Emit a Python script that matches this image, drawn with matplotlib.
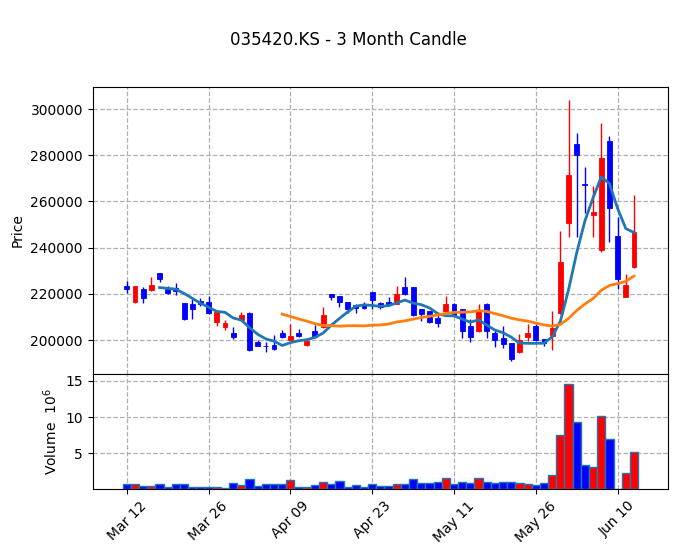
import numpy as np
import pandas as pd
import matplotlib
matplotlib.use("Agg")
import matplotlib.pyplot as plt

# daily OHLC (KRW) and volume (millions)
opens = [223600, 216400, 222300, 221440, 228800, 221870, 222640, 215830, 215700, 217100,
         216550, 207910, 205610, 202880, 208490, 211800, 199140, 197550, 197840, 203170,
         200140, 203020, 197990, 203740, 205610, 219860, 218850, 216400, 215250, 215250,
         220580, 216110, 216400, 215680, 223020, 223020, 213530, 212520, 209640, 212370,
         215700, 213300, 206200, 203890, 215400, 203170, 200720, 198560, 194960, 201300,
         206040, 200290, 201730, 211560, 250870, 284970, 267500, 254340, 239020, 286270,
         245090, 218500, 231790]
highs = [225750, 223500, 222900, 227200, 228800, 223170, 224800, 215830, 217550, 218300,
         218850, 212090, 208630, 205760, 212090, 212090, 199860, 199280, 202160, 204320,
         206760, 204600, 199420, 206330, 214390, 219860, 218850, 216400, 215680, 216550,
         220580, 216550, 218700, 223300, 227340, 223020, 213530, 212520, 211080, 218990,
         216100, 213300, 208900, 215400, 215830, 204320, 206040, 198560, 202450, 206760,
         206760, 200290, 212720, 247400, 303760, 289600, 274860, 266470, 293930, 288150,
         253470, 228470, 262720]
lows = [220430, 216100, 216100, 221150, 225200, 220000, 219480, 208780, 209200, 214800,
        211400, 206190, 204170, 200570, 208200, 195250, 197260, 194680, 195830, 201010,
        200000, 201300, 197260, 201010, 205320, 217270, 214240, 211800, 211800, 213530,
        213530, 213530, 214680, 215400, 219280, 210360, 208200, 207480, 205610, 212090,
        210300, 201000, 199100, 203450, 201010, 196980, 196690, 190940, 194530, 199570,
        199570, 197410, 195660, 211270, 244510, 244800, 254910, 244800, 238300, 242630,
        221970, 218500, 231070]
closes = [222000, 223170, 218270, 223900, 226200, 220290, 221340, 209060, 213500, 215400,
          211800, 212090, 207190, 201300, 210650, 195680, 197550, 197260, 196260, 201440,
          201730, 201730, 199420, 201300, 210940, 218700, 216400, 213380, 213810, 213810,
          217410, 214390, 214960, 219710, 220000, 210790, 211080, 207910, 207340, 215400,
          210600, 204000, 201200, 212520, 203890, 200000, 198130, 191650, 199860, 203170,
          200000, 198560, 205060, 233670, 271530, 280200, 267200, 255350, 278760, 257080,
          226300, 223700, 246970]
volumes = [0.65, 0.65, 0.47, 0.47, 0.65, 0.33, 0.65, 0.65, 0.33, 0.33,
           0.33, 0.28, 0.19, 0.8, 0.5, 1.35, 0.47, 0.65, 0.65, 0.65,
           1.2, 0.33, 0.33, 0.5, 0.93, 0.65, 1.07, 0.33, 0.5, 0.23,
           0.65, 0.37, 0.37, 0.65, 0.65, 1.35, 0.8, 0.8, 0.93, 1.5,
           0.65, 0.93, 0.8, 1.5, 0.93, 0.8, 0.93, 0.93, 0.8, 0.65,
           0.5, 0.8, 1.9, 7.5, 14.52, 9.3, 3.3, 3.0, 10.1, 6.9,
           0.0, 2.2, 5.1]
tick_pos = [0, 10, 20, 30, 40, 50, 60]
tick_labels = ["Mar 12", "Mar 26", "Apr 09", "Apr 23", "May 11", "May 26", "Jun 10"]

df = pd.DataFrame({"open": opens, "high": highs, "low": lows, "close": closes, "volume": volumes})
df["ma5"] = df["close"].rolling(5).mean()
df["ma20"] = df["close"].rolling(20).mean()
x = np.arange(len(df))
up = df["close"] >= df["open"]
colors = np.where(up, "#ff0000", "#0000ff")

fig = plt.figure(figsize=(6.77, 5.55), dpi=100)
ax = fig.add_axes([0.1369, 0.3261, 0.8503, 0.5176])
axv = fig.add_axes([0.1369, 0.1189, 0.8503, 0.2072], sharex=ax)

grid_kw = dict(color="#b0b0b0", linestyle="--", linewidth=0.9)

# candles
ax.vlines(x, df["low"], df["high"], colors=colors, linewidth=1.0, zorder=2)
body = (df["close"] - df["open"]).abs().clip(lower=300)
ax.bar(x, body, bottom=df[["open", "close"]].min(axis=1), width=0.6,
       color=colors, edgecolor=colors, linewidth=0.6, zorder=3)
ax.plot(x, df["ma5"], color="#1f77b4", linewidth=2, zorder=4)
ax.plot(x, df["ma20"], color="#ff7f0e", linewidth=2, zorder=4)
ax.set_ylim(185280, 309650)
ax.set_xlim(-4.17, 66.2)
ax.set_yticks([200000, 220000, 240000, 260000, 280000, 300000])
ax.set_ylabel("Price")
ax.grid(True, **grid_kw)
ax.set_axisbelow(True)
ax.tick_params(axis="x", labelbottom=False)

# volume
axv.bar(x, df["volume"], width=1.0, color=colors, edgecolor="#1f77b4", linewidth=1.0, zorder=3)
axv.set_ylim(0, 15.97)
axv.set_yticks([5, 10, 15])
axv.set_ylabel("Volume  $10^{6}$")
axv.grid(True, **grid_kw)
axv.set_axisbelow(True)
axv.set_xticks(tick_pos)
axv.set_xticklabels(tick_labels, rotation=45)

fig.suptitle("035420.KS - 3 Month Candle", x=0.514, y=0.945, fontsize=12)
fig.savefig("out.png", dpi=100)
